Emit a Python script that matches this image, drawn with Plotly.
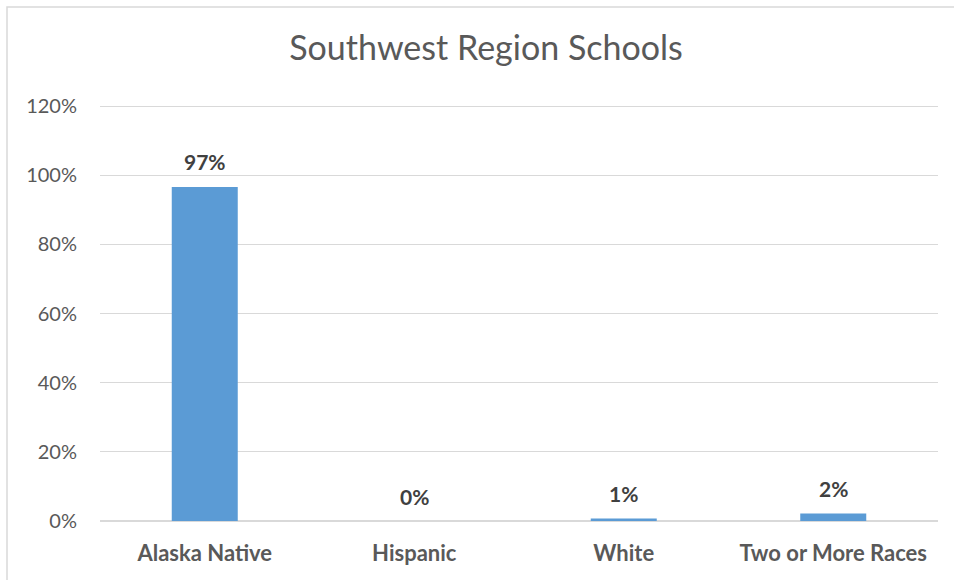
import plotly.graph_objects as go

categories = ["Alaska Native", "Hispanic", "White", "Two or More Races"]
values = [0.966, 0.0, 0.007, 0.022]
y_ticks = [0, 0.2, 0.4, 0.6, 0.8, 1.0, 1.2]
title_text = "Southwest Region Schools"

W, H = 954, 580
L, R, T, B = 100, 16, 105, 59
pw, ph = W - L - R, H - T - B

def px_x(x):
    return (x - L) / pw

def px_y(y):
    return (H - B - y) / ph

fig = go.Figure(go.Bar(
    x=categories, y=values,
    marker=dict(color="#5b9bd5", line=dict(width=0)),
    cliponaxis=False,
))

annotations = [
    dict(x=c, y=v, xref="x", yref="y", text=f"{round(v * 100):.0f}%",
         showarrow=False, yanchor="middle", yshift=25,
         font=dict(family="Lato", size=21, color="#404040", weight="bold"))
    for c, v in zip(categories, values)
]

fig.update_layout(
    width=W, height=H,
    margin=dict(l=L, r=R, t=T, b=B),
    paper_bgcolor="white", plot_bgcolor="white",
    bargap=0.685,
    showlegend=False,
    annotations=annotations,
    title=dict(text=title_text, x=486 / W, xanchor="center", xref="container",
               y=1 - 48 / H, yanchor="middle", yref="container",
               font=dict(family="Lato", size=34, color="#595959")),
    xaxis=dict(showgrid=False, showline=False, ticks="",
               tickfont=dict(family="Lato", size=22, color="#595959", weight="bold"),
               ticklabelstandoff=17),
    yaxis=dict(range=[0, 1.203], tickvals=y_ticks, tickformat=".0%",
               showgrid=True, gridcolor="#d9d9d9", gridwidth=1,
               zeroline=True, zerolinecolor="#d9d9d9", zerolinewidth=1.5,
               showline=False, ticks="",
               tickfont=dict(family="Lato", size=20, color="#595959"),
               ticklabelstandoff=22),
    shapes=[dict(type="rect", xref="paper", yref="paper",
                 x0=px_x(7), x1=px_x(965), y0=px_y(595), y1=px_y(7),
                 line=dict(color="#d9d9d9", width=1.5), fillcolor="rgba(0,0,0,0)")],
)

fig.write_html("out.html", config={"displayModeBar": False},
               post_script="document.body.style.margin='0';")
